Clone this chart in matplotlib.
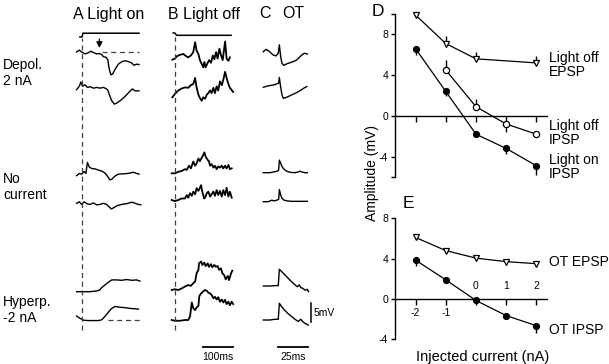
import matplotlib
matplotlib.use("Agg")
import matplotlib.pyplot as plt

plt.rcParams['font.family'] = ['Liberation Sans', 'DejaVu Sans']

# ------------------------------------------------------------------ data
# light stimulus monitor (arbitrary units, ms)
stim_on_t = [-7, 0, 3, 190]
stim_on_v = [0, 0, 1, 1]
stim_off_t = [-6, 0, 5, 187]
stim_off_v = [0.6, 0.6, 0, 0]

# A: Light on responses (ms, mV relative to start)
a1_t = [-18, -9, -1, 10, 21, 29, 40, 49, 58, 66, 71, 80, 86, 90, 96, 102, 110, 121, 132, 143, 154, 166, 173, 182, 190]
a1_v = [0, 0.5, 0, -0.5, -0.2, 0.2, -0.2, -0.5, -0.4, -0.7, -1.2, -1.4, -2.0, -4.2, -6.0, -5.8, -4.6, -3.2, -2.6, -2.3, -2.5, -2.9, -3.5, -3.2, -3.3]
a2_t = [-18, -9, -4, 2, 10, 18, 27, 38, 49, 60, 71, 80, 86, 91, 99, 108, 116, 127, 138, 149, 160, 168, 177, 190]
a2_v = [0, 0.9, 2.0, 0.9, 1.3, 0.6, 0.8, 0.4, 0.6, 0.4, 0.6, 0.3, -0.1, -1.3, -2.9, -3.8, -3.5, -2.9, -2.2, -1.3, -0.4, 0.2, -0.3, -0.3]
a3_t = [-18, -9, -1, 7, 13, 18, 24, 32, 43, 54, 66, 73, 80, 88, 93, 100, 108, 121, 138, 154, 171, 182, 190]
a3_v = [0, 0.6, 0.4, 1.1, 0.6, 3.5, 2.3, 1.9, 1.8, 1.5, 1.2, 0.9, 0.4, -0.5, -1.1, -0.9, -0.2, 0.4, 0.5, 0.6, 0.9, 0.6, 0.4]
a4_t = [-18, -9, -1, 7, 16, 27, 38, 49, 60, 71, 82, 90, 98, 107, 118, 132, 149, 166, 177, 188, 196]
a4_v = [0, 0.4, -0.3, 0.4, -0.1, -0.3, 0.1, -0.4, -0.3, 0, -0.3, -0.9, -1.5, -1.1, -0.6, -0.3, -0.1, 0.3, 0, -0.3, -0.4]
a5_t = [-18, 4, 27, 49, 58, 66, 77, 88, 99, 116, 132, 149, 166, 182, 193]
a5_v = [0, 0, 0, 0.2, 0.4, 1.1, 1.8, 2.5, 3.1, 3.1, 3.0, 3.2, 3.0, 3.1, 2.8]
a6_t = [-18, -7, 4, 21, 38, 54, 66, 73, 82, 91, 99, 110, 127, 143, 160, 177, 188]
a6_v = [0, -0.6, -1.1, -1.2, -1.2, -1.2, -1.0, -0.4, 0.4, 1.3, 2.0, 2.5, 2.3, 2.2, 2.0, 1.9, 1.8]

# B: Light off responses
b1_t = [-9, 0, 6, 17, 28, 36, 44, 53, 61, 67, 72, 78, 83, 89, 94, 98, 102, 109, 114, 120, 126, 131, 137, 142, 148, 153, 159, 167, 172, 178, 183]
b1_v = [0, 0.3, 0.9, 1.3, 1.5, 1.0, 0.6, 1.1, 2.0, 4.6, 2.4, 1.5, -0.1, -1.1, -2.0, -0.6, -2.0, -0.8, -0.1, -0.8, 1.1, 0.1, 2.0, 0.3, 2.9, 1.3, -0.1, 4.8, 0.3, -0.3, 0.6]
b2_t = [-9, 0, 11, 22, 33, 44, 53, 61, 67, 72, 78, 83, 89, 94, 100, 106, 111, 117, 122, 128, 133, 139, 144, 150, 156, 161, 167, 172, 178, 183, 194]
b2_v = [0, 0.9, 1.8, 2.3, 2.6, 2.5, 3.2, 3.5, 5.1, 2.6, 0.7, -0.2, -0.9, 0, -0.4, 0.7, 1.1, 1.8, 1.1, 2.5, 1.1, 2.9, 1.8, 4.2, 3.2, 4.6, 6.7, 5.1, 3.5, 2.5, 1.4]
b3_t = [-11, 0, 11, 22, 33, 39, 47, 53, 61, 67, 72, 78, 83, 89, 94, 98, 102, 109, 113, 117, 122, 128, 133, 139, 144, 150, 156, 161, 167, 172, 178, 183, 189]
b3_v = [0, 0, 0.4, 0.6, 1.1, 0.9, 2.0, 1.3, 3.1, 2.0, 2.6, 3.9, 3.2, 4.1, 4.8, 5.5, 4.4, 3.5, 3.2, 2.0, 2.4, 1.5, 2.0, 1.1, 1.8, 1.5, 2.0, 1.3, 2.0, 1.3, 2.2, 1.1, 1.3]
b4_t = [-11, 0, 11, 22, 33, 39, 44, 50, 56, 61, 67, 72, 78, 83, 87, 91, 97, 100, 106, 111, 117, 122, 128, 133, 139, 144, 150, 156, 161, 167, 172, 178, 183, 189]
b4_v = [0, -0.3, 0, 0.4, 0.4, 1.3, 0.6, 1.8, 1.1, 2.2, 1.5, 3.1, 2.4, 3.2, 3.9, 2.2, 0.4, 0.6, 1.8, 2.2, 0.9, 1.5, 2.2, 1.1, 2.6, 1.3, 2.4, 0.9, 2.6, 1.3, 3.2, 0.9, 2.2, 0.6]
b5_t = [-11, 0, 11, 22, 33, 44, 53, 61, 67, 72, 78, 80, 87, 91, 98, 102, 109, 113, 120, 124, 131, 136, 142, 147, 153, 158, 164, 169, 176, 180, 187, 191]
b5_v = [0, 0.2, 0, 0.4, 0.9, 1.3, 1.1, 1.8, 2.2, 4.4, 5.3, 7.0, 7.5, 6.6, 7.2, 6.3, 7.0, 6.1, 6.8, 6.0, 6.6, 6.1, 6.3, 5.3, 5.7, 4.4, 3.9, 2.8, 3.7, 2.6, 4.4, 5.1]
b6_t = [-11, 0, 17, 33, 44, 50, 56, 61, 67, 72, 78, 81, 87, 94, 100, 106, 111, 117, 122, 128, 133, 139, 144, 150, 156, 161, 167, 172, 178, 183, 189, 194]
b6_v = [0, -0.2, -0.2, 0, 0, 0.9, 4.6, 3.1, 2.6, 3.3, 3.7, 6.3, 7.0, 7.5, 7.9, 7.7, 7.2, 7.0, 6.6, 5.7, 6.1, 5.4, 6.0, 4.8, 5.4, 4.6, 5.3, 4.2, 4.8, 3.9, 4.8, 4.2]

# C: OT stimulation responses
c1_t = [-13.1, -10.8, -8.9, -6.9, -4.7, -2.5, -0.6, 0.3, 1.4, 2.5, 4.2, 6.4, 9.2, 11.9, 14.7, 16.9, 18.9, 21.1, 23.6]
c1_v = [0, 0.6, 0.3, -0.3, -0.9, -1.1, -0.4, 1.8, -1.3, -3.1, -3.6, -3.2, -2.9, -2.6, -2.2, -1.5, -0.9, -0.4, -0.6]
c2_t = [-13.1, -8.9, -4.7, -1.9, -0.3, 0.3, 1.4, 2.5, 3.6, 5.8, 8.6, 11.9, 14.7, 17.5, 20.3, 23.1]
c2_v = [0, 0.4, 0.6, 0.9, 1.1, 2.6, 0, -2.0, -2.9, -2.7, -2.3, -1.8, -1.4, -0.9, -0.3, 0.2]
c3_t = [-13.1, -7.5, -3.3, -1.4, -0.3, 0.3, 1.4, 2.5, 4.2, 6.4, 9.2, 13.3, 16.1, 17.5, 18.9, 21.7, 23.6]
c3_v = [0, 0, 0.3, 0.4, 0.7, 3.3, 2.5, 1.6, 0.9, 0.4, 0.1, 0, 0.2, 0.4, 0.2, 0, 0]
c4_t = [-13.1, -8.9, -6.1, -4.2, -1.9, -0.3, 0.3, 1.4, 2.5, 4.2, 6.9, 10.6, 14.7, 20.3, 23.6]
c4_v = [0, 0, 0.4, 0.2, 0.4, 0.6, 3.2, 1.8, 0.9, 0.4, 0.2, 0.1, 0.1, 0.1, 0.1]
c5_t = [-13.1, -7.5, -3.3, -0.6, 0.3, 2.2, 5.0, 7.8, 10.6, 13.3, 15.3, 16.9, 18.1, 19.7, 21.7, 23.6, 24.7]
c5_v = [0, 0, 0.1, 0.1, 4.4, 3.8, 2.9, 2.0, 1.1, 0.3, -0.2, 0.3, -0.4, -0.6, -1.1, -0.9, -1.5]
c6_t = [-13.1, -7.5, -3.3, -0.6, 0.3, 2.2, 5.0, 7.8, 10.6, 13.3, 16.1, 18.1, 19.7, 21.7, 24.4]
c6_v = [0, 0, 0.2, 0.2, 4.4, 3.5, 2.5, 1.6, 0.9, 0.2, -0.4, 0.2, -0.4, -0.9, -1.3]

# D / E: amplitude vs injected current
currents = [-2, -1, 0, 1, 2]
d_off_epsp_x = [-2, -1, 0, 2]
d_off_epsp_y = [9.9, 7.1, 5.6, 5.2]
d_off_epsp_err = [0.1, 0.7, 0.7, 0.7]
d_off_ipsp_x = [-1, 0, 1, 2]
d_off_ipsp_y = [4.5, 0.9, -0.8, -1.8]
d_off_ipsp_err_up = [1.0, 0.8, 0.0, 0.0]
d_off_ipsp_err_dn = [0.0, 0.0, 0.8, 0.1]
d_on_ipsp_y = [6.6, 2.4, -1.8, -3.2, -4.9]
d_on_ipsp_err = [0.6, 0.4, 0.1, 0.5, 0.9]
e_ot_epsp_y = [6.1, 4.8, 4.05, 3.7, 3.5]
e_ot_ipsp_y = [3.85, 1.9, -0.15, -1.65, -2.65]
e_ot_ipsp_err = [0.6, 0.1, 0.1, 0.1, 0.7]
d_yticks = [-6, -4, 0, 4, 8, 10]
d_ylabels = ['', '-4', '0', '4', '8', '']
e_yticks = [-4, 0, 4, 8]
e_ylabels = ['-4', '0', '4', '8']
x_labels = ['-2', '-1', '0', '1', '2']

# ------------------------------------------------------------------ layout
W, H = 609, 364
fig = plt.figure(figsize=(W / 100, H / 100), dpi=100)


def fx(x):
    return x / W


def fy(y):
    return 1 - y / H


MV_PX = 3.8          # pixels per mV in trace panels
TOP_PX = 20          # top of trace axes in pixels
YMAX = (H - TOP_PX) / MV_PX


def off(px):
    return (H - px) / MV_PX


def trace_axes(left_px, width_px, t0_px, ms_px):
    ax = fig.add_axes([fx(left_px), 0, width_px / W, (H - TOP_PX) / H])
    ax.set_xlim((left_px - t0_px) / ms_px, (left_px + width_px - t0_px) / ms_px)
    ax.set_ylim(0, YMAX)
    ax.axis('off')
    return ax


LW = 1.0
dash = dict(color='0.25', lw=0.9, ls=(0, (4, 3)))

# --- A
axA = trace_axes(70, 75, 82, 0.3)
axA.plot(stim_on_t, [v + off(37) for v in stim_on_v], color='k', lw=1.1)
a_traces = [(a1_t, a1_v, 52), (a2_t, a2_v, 89.7), (a3_t, a3_v, 175.7),
            (a4_t, a4_v, 203.3), (a5_t, a5_v, 291.7), (a6_t, a6_v, 316)]
for t, v, b in a_traces:
    axA.plot(t, [x + off(b) for x in v], color='k', lw=LW)
axA.plot([0, 0], [off(330), off(38)], **dash)
axA.plot([66, 191], [off(52), off(52)], **dash)
axA.plot([88, 193], [off(320), off(320)], **dash)
axA.annotate('', xy=(58, off(48)), xytext=(58, off(39)),
             arrowprops=dict(arrowstyle='-|>,head_length=0.35,head_width=0.18',
                             color='k', lw=0.9, shrinkA=0, shrinkB=0))

# --- B
axB = trace_axes(165, 75, 175, 0.3)
axB.plot(stim_off_t, [v + off(35.3) for v in stim_off_v], color='k', lw=1.1)
b_traces = [(b1_t, b1_v, 59.7), (b2_t, b2_v, 97.3), (b3_t, b3_v, 173.3),
            (b4_t, b4_v, 200), (b5_t, b5_v, 290), (b6_t, b6_v, 320)]
for t, v, b in b_traces:
    axB.plot(t, [x + off(b) for x in v], color='k', lw=1.3)
axB.plot([0, 0], [off(330), off(37)], **dash)
axB.plot([93.3, 193.3], [off(347), off(347)], color='k', lw=1.3)
axB.text(143.3, off(357), '100ms', ha='center', va='center', fontsize=7.5)

# --- C
axC = trace_axes(255, 75, 279, 1.2)
c_traces = [(c1_t, c1_v, 51.7), (c2_t, c2_v, 87.3), (c3_t, c3_v, 172.7),
            (c4_t, c4_v, 201.7), (c5_t, c5_v, 286), (c6_t, c6_v, 320)]
for t, v, b in c_traces:
    axC.plot(t, [x + off(b) for x in v], color='k', lw=LW)
axC.plot([-0.8, 24.2], [off(347), off(347)], color='k', lw=1.3)
axC.text(11.7, off(357), '25ms', ha='center', va='center', fontsize=7.5)
axC.plot([26.7, 26.7], [off(322), off(322) + 5], color='k', lw=1.1)
axC.text(29.0, off(322) + 2.5, '5mV', ha='left', va='center', fontsize=7.5, clip_on=False)

# --- headers and row labels
fig.text(fx(73), fy(14), 'A Light on', fontsize=11.5, ha='left', va='center')
fig.text(fx(168), fy(14), 'B Light off', fontsize=11.5, ha='left', va='center')
fig.text(fx(259), fy(14), 'C', fontsize=11.5, ha='left', va='center')
fig.text(fx(282), fy(14), 'OT', fontsize=11.5, ha='left', va='center')
fig.text(fx(3), fy(73), 'Depol.\n2 nA', fontsize=10, ha='left', va='center', linespacing=1.15)
fig.text(fx(3), fy(187), 'No\ncurrent', fontsize=10, ha='left', va='center', linespacing=1.15)
fig.text(fx(3), fy(310), 'Hyperp.\n-2 nA', fontsize=10, ha='left', va='center', linespacing=1.15)


# --- D / E
def iv_axes(top_px, bottom_px, ylim, yticks, ylabels):
    ax = fig.add_axes([fx(395), fy(bottom_px), (547 - 395) / W, (bottom_px - top_px) / H])
    ax.set_xlim(-2.68, 2.35)
    ax.set_ylim(*ylim)
    ax.patch.set_visible(False)
    for s in ['top', 'right']:
        ax.spines[s].set_visible(False)
    ax.spines['bottom'].set_position(('data', 0))
    ax.spines['bottom'].set_linewidth(1.0)
    ax.spines['left'].set_linewidth(1.0)
    ax.set_xticks(currents)
    ax.set_xticklabels([])
    ax.tick_params(axis='x', direction='out', length=4, width=1)
    ax.set_yticks(yticks)
    ax.set_yticklabels(ylabels)
    ax.tick_params(axis='y', direction='out', length=3, width=1, labelsize=7.5, pad=2)
    return ax


mk_open = dict(color='k', lw=0.9, mfc='white', mec='k', mew=0.9, zorder=3, clip_on=False)
mk_fill = dict(color='k', lw=0.9, mfc='k', mec='k', zorder=3, clip_on=False)
eb = dict(fmt='none', ecolor='k', elinewidth=1.0, capsize=0, zorder=2)

axD = iv_axes(14, 177, (-6, 10), d_yticks, d_ylabels)
axD.errorbar(d_off_epsp_x, d_off_epsp_y, yerr=[[0] * 4, d_off_epsp_err], **eb)
axD.errorbar(d_off_ipsp_x, d_off_ipsp_y, yerr=[d_off_ipsp_err_dn, d_off_ipsp_err_up], **eb)
axD.errorbar(currents, d_on_ipsp_y, yerr=[d_on_ipsp_err, [0] * 5], **eb)
axD.plot(d_off_epsp_x, d_off_epsp_y, marker='v', ms=5, **mk_open)
axD.plot(d_off_ipsp_x, d_off_ipsp_y, marker='o', ms=4.5, **mk_open)
axD.plot(currents, d_on_ipsp_y, marker='o', ms=4.2, **mk_fill)
fig.text(fx(372), fy(11), 'D', fontsize=12.5, ha='left', va='center')
fig.text(fx(549), fy(65), 'Light off\nEPSP', fontsize=10, ha='left', va='center', linespacing=1.0)
fig.text(fx(549), fy(133), 'Light off\nIPSP', fontsize=10, ha='left', va='center', linespacing=1.0)
fig.text(fx(549), fy(167), 'Light on\nIPSP', fontsize=10, ha='left', va='center', linespacing=1.0)

axE = iv_axes(218.3, 339.3, (-4, 8), e_yticks, e_ylabels)
axE.errorbar(currents, e_ot_ipsp_y, yerr=[e_ot_ipsp_err, [0] * 5], **eb)
axE.plot(currents, e_ot_epsp_y, marker='v', ms=5, **mk_open)
axE.plot(currents, e_ot_ipsp_y, marker='o', ms=4.2, **mk_fill)
for xv, lab in zip(currents, x_labels):
    yv = -1.4 if xv < 0 else 1.25
    axE.text(xv, yv, lab, ha='center', va='center', fontsize=7.5)
fig.text(fx(403), fy(204), 'E', fontsize=12.5, ha='left', va='center')
fig.text(fx(549), fy(262), 'OT EPSP', fontsize=10, ha='left', va='center')
fig.text(fx(549), fy(330), 'OT IPSP', fontsize=10, ha='left', va='center')

fig.text(fx(483), fy(357), 'Injected current (nA)', fontsize=10.5, ha='center', va='center')
fig.text(fx(372), fy(173), 'Amplitude (mV)', fontsize=10, ha='center', va='center', rotation=90)

fig.savefig('out.png', dpi=100)
